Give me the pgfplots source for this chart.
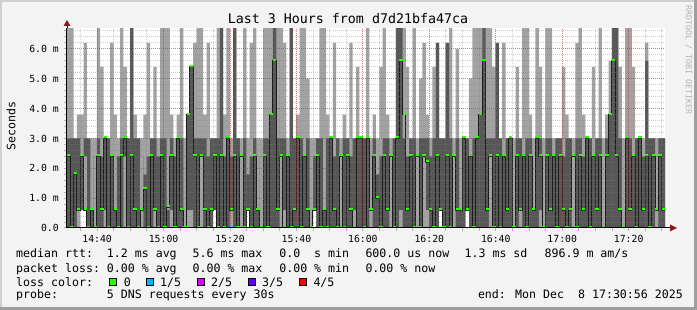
\documentclass[border=0pt]{standalone}
\usepackage{fontspec}
\setmainfont{DejaVu Sans Mono}
\usepackage{pgfplots}
\usepackage{pgfplotstable}
\pgfplotsset{compat=1.18}
\definecolor{bgc}{HTML}{F3F3F3}
\definecolor{shadea}{HTML}{CFCFCF}
\definecolor{shadeb}{HTML}{9E9E9E}
\definecolor{lightsmoke}{HTML}{A2A2A2}
\definecolor{darksmoke}{HTML}{575757}
\definecolor{medblack}{HTML}{1C1C1C}
\definecolor{lossgreen}{HTML}{26FF00}
\definecolor{lossblue}{HTML}{00B8FF}
\definecolor{lossmag}{HTML}{DD00FF}
\definecolor{losspurp}{HTML}{5E00FF}
\definecolor{lossred}{HTML}{FF0000}
\definecolor{arrowred}{HTML}{8B1A1A}
\definecolor{watermark}{HTML}{B5B5B5}
\newcommand\tickfont{\fontsize{9.8}{10}\selectfont}
\newcommand\legfont{\fontsize{11.6}{12}\selectfont}
\newcommand\titlefont{\fontsize{13.3}{14}\selectfont}
\newcommand\wmfont{\fontsize{8.3}{9}\selectfont}

% i = minute index since 14:30:56; lo <= a <= b <= hi are smoke bounds (ms); med = median rtt (ms)
\pgfplotstableread{
i lo a b hi med
0 0 0 3.0 6.8 2.4
1 0 0 3.0 6.8 0
2 0 0 3.0 3.0 1.8
3 0 0.6 3.0 3.8 0.6
4 0.6 0.6 2.4 3.8 2.4
5 0.6 2.4 3.0 6.2 0.6
6 0 0 3.0 3.0 0
7 0 0 0.6 3.0 0.6
8 0 2.4 2.4 3.0 0
9 0 0 3.0 6.8 2.4
10 0 0 2.4 5.4 0.6
11 0 0.6 3.0 3.0 3.0
12 0 0 3.0 3.0 0
13 0 0 2.4 6.2 2.4
14 0 0 0.6 3.8 0.6
15 0 0 2.4 3.0 0
16 0 0 3.0 6.8 2.4
17 0 2.4 3.0 5.4 3.0
18 0 0 3.0 3.0 0
19 0 0 6.8 6.8 2.4
20 0 0 3.0 3.8 0.6
21 0 0 3.0 3.0 0
22 0 2.4 2.4 3.0 0.6
23 0 0 1.8 3.8 1.3
24 0 0 2.4 6.2 0
25 0 0 3.0 3.0 2.4
26 0 0.6 3.0 5.4 0.6
27 0 0 2.4 3.0 0
28 0 0 3.0 6.8 2.4
29 0 0 3.0 6.8 0
30 0 0 0.6 6.8 0.7
31 0 0.6 3.0 3.8 2.4
32 0 0 2.4 3.0 0
33 0 0 3.0 3.8 3.0
34 0 0 3.0 6.8 0.6
35 0 2.4 2.4 3.0 0
36 0 0.6 3.8 3.8 3.8
37 0 0.6 5.4 5.4 5.4
38 0 0 3.0 6.2 2.4
39 0 0 3.0 6.8 0
40 0 2.4 3.0 6.8 2.4
41 0 0 3.0 3.8 0.6
42 0 0 2.4 6.2 0
43 0 0 3.0 3.0 0.6
44 0.6 0.6 3.0 3.0 2.4
45 0 0 3.0 6.8 0
46 0 0 6.8 6.8 2.4
47 0 0 2.4 3.8 0
48 0 0 3.0 6.8 3.0
49 0 0.6 2.4 3.0 0.6
50 0 0 6.8 6.8 2.4
51 0 0 3.0 3.0 0
52 0 2.4 2.4 3.0 2.4
53 0 0 3.0 6.8 0
54 0.6 0.6 1.8 3.0 0.6
55 0 0 2.4 6.2 0
56 0 0 3.0 6.8 2.4
57 0 0 0.6 3.0 0.6
58 0 2.4 2.4 3.0 0
59 0 0 3.0 6.8 2.4
60 0 0 3.0 6.8 0
61 0 0 3.8 6.8 3.8
62 0 0 6.8 6.8 5.6
63 0 0 3.0 6.8 0.6
64 0 2.4 3.0 6.8 2.4
65 0 0.6 3.0 6.2 0
66 0 0 2.4 3.0 2.4
67 0 0 6.8 6.8 0
68 0 0 3.0 3.0 0.6
69 0 0 3.0 3.8 3.0
70 0 0 3.0 6.8 0
71 0 0 2.4 6.8 2.4
72 0 0 3.0 5.0 0.6
73 0 2.4 2.4 3.0 0
74 0.6 0.6 2.4 3.0 0.6
75 0 0 3.0 3.0 2.4
76 0 0 3.0 6.8 0
77 0 0 0.6 6.8 0.6
78 0 0 3.0 3.8 0
79 0 0 3.0 3.0 3.0
80 0 0 2.4 6.2 0.6
81 0 0 3.0 3.0 0
82 0 2.4 2.4 3.0 2.4
83 0 0 3.0 3.8 0
84 0 0 3.0 3.0 2.4
85 0 0 2.4 6.2 0.6
86 0 0.6 3.0 3.0 0
87 0 0 3.0 5.4 3.0
88 0 0 3.0 3.0 3.0
89 0 0 3.0 3.0 0
90 0 0 3.0 6.8 3.0
91 0 2.4 2.4 3.0 0.6
92 0 0 3.0 3.8 2.4
93 0 0 1.8 3.0 1.0
94 0 0 2.4 5.4 0
95 0 0 3.0 6.8 2.4
96 0 0 3.0 3.8 0.6
97 0 2.4 2.4 3.0 2.4
98 0 0 3.0 3.0 0
99 0 0 6.8 6.8 3.0
100 0 0.6 6.8 6.8 5.6
101 0 0 3.0 6.8 3.8
102 0 0 2.4 5.4 0.6
103 0 0 3.0 3.0 2.4
104 0 0 3.0 6.8 0
105 0 2.4 2.4 3.0 2.4
106 0 0 3.0 5.0 0
107 0 2.4 3.0 6.2 2.4
108 0 0.6 3.0 3.8 2.2
109 0 0 2.4 3.0 0.6
110 0 0 3.0 5.4 0
111 0 0 6.2 6.2 2.4
112 0.6 0.6 3.0 3.0 0.6
113 0 0 3.0 3.0 0
114 0 0 6.2 6.2 2.4
115 0 0 3.0 6.8 0
116 0 2.4 2.4 3.0 2.4
117 0 0 3.0 6.0 0.6
118 0 0 0.6 3.0 0.6
119 0 0 3.0 3.0 3.0
120 0.6 0.6 3.0 3.0 0.6
121 0 0 2.4 5.0 2.4
122 0 0 3.0 6.8 0
123 0 0 3.0 6.8 3.0
124 0 0 3.8 6.8 3.8
125 0 0 6.8 6.8 5.6
126 0 0 3.0 6.8 0.6
127 0 2.4 3.0 6.8 2.4
128 0 0 3.0 5.4 0
129 0 0 6.2 6.2 2.4
130 0 0 3.0 3.0 0
131 0 0 2.4 6.2 2.4
132 0 0 3.0 3.0 0.6
133 0 0 3.0 3.0 3.0
134 0 2.4 2.4 3.0 0
135 0 0 3.0 5.4 2.4
136 0 0.6 3.0 3.0 0.6
137 0 0 2.4 6.8 2.4
138 0 0 3.0 6.8 0
139 0 0 3.0 3.8 2.4
140 0 0 0.6 3.0 0.6
141 0 0 3.0 6.8 3.0
142 0 0.6 3.0 5.4 2.4
143 0 2.4 2.4 3.0 0
144 0 0 3.0 6.8 2.4
145 0 0 3.0 6.8 0.6
146 0 0 2.4 3.0 2.4
147 0 0 3.0 3.0 0
148 0 0 3.0 3.0 2.4
149 0 0 2.4 5.4 0.6
150 0 0 3.0 3.8 0
151 0 0 3.0 3.0 0.6
152 0 2.4 2.4 3.0 2.4
153 0 0 3.0 6.2 0
154 0 0 3.0 6.8 2.4
155 0 0 2.4 3.8 0.6
156 0 0 3.0 3.0 3.0
157 0 0 3.0 3.0 0
158 0 0 2.4 5.4 2.4
159 0 0 3.0 3.0 0.6
160 0 0 3.0 6.8 2.4
161 0 2.4 2.4 3.0 0
162 0 0 3.0 3.8 2.4
163 0 0 3.8 5.6 3.8
164 0 0 6.8 6.8 5.6
165 0 0 6.8 6.8 2.4
166 0 0 3.0 5.4 0.6
167 0 2.4 2.4 3.0 0
168 0 0 3.0 6.8 3.0
169 0 0 3.0 6.8 0.6
170 0 0 2.4 5.4 2.4
171 0 0 3.0 3.0 0
172 0 0 3.0 3.0 3.0
173 0 0 2.4 3.0 0.6
174 0 0 5.6 6.2 2.4
175 0 0 3.0 3.0 0
176 0 0 3.0 3.0 2.4
177 0 2.4 2.4 3.0 0.6
178 0 0 3.0 3.0 2.4
179 0 0 3.0 3.0 0.6
180 0 0 3.0 3.0 0.6
}\smoke

\begin{document}
\begin{tikzpicture}[x=1pt,y=1pt]
\fill[bgc] (0,0) rectangle (697,310);
\fill[shadea] (0,308) rectangle (697,310);
\fill[shadea] (0,0) rectangle (2,310);
\fill[shadeb] (694,0) rectangle (697,310);
\fill[shadeb] (0,0) rectangle (697,3);

\begin{axis}[
  at={(67pt,82pt)}, anchor=south west,
  scale only axis, width=598pt, height=200pt,
  xmin=0.9333, xmax=180.9333, ymin=0, ymax=6.7,
  axis background/.style={fill=white},
  axis on top,
  axis x line*=bottom, axis y line*=left,
  axis line style={draw=black, line width=1pt},
  xtick={10,30,...,170},
  xticklabels={14:40,15:00,15:20,15:40,16:00,16:20,16:40,17:00,17:20},
  minor xtick={5,10,...,180},
  ytick={0,1,...,6},
  yticklabels={0.0,1.0 m,2.0 m,3.0 m,4.0 m,5.0 m,6.0 m},
  minor ytick={0.2,0.4,...,6.61},
  grid=both,
  major grid style={draw=red, opacity=0.42, line width=1pt, dash pattern=on 1pt off 1pt},
  minor grid style={draw=gray, opacity=0.38, line width=1pt, dash pattern=on 1pt off 1pt},
  tick align=outside, tick pos=left,
  major tick length=3pt, minor tick length=3pt,
  every tick/.style={draw=black!30, line width=1pt},
  xticklabel style={font=\tickfont, anchor=base, inner sep=0pt, yshift=-12pt},
  yticklabel style={font=\tickfont, anchor=east, inner sep=0pt, xshift=-5pt},
]
\addplot[const plot mark left, fill=lightsmoke, draw=none] table[x expr=\thisrow{i}+0.9333, y=hi] {\smoke} \closedcycle;
\addplot[const plot mark left, fill=darksmoke, draw=none] table[x expr=\thisrow{i}+0.9333, y=b] {\smoke} \closedcycle;
\addplot[const plot mark left, fill=lightsmoke, draw=none] table[x expr=\thisrow{i}+0.9333, y=a] {\smoke} \closedcycle;
\addplot[const plot mark left, fill=white, draw=none] table[x expr=\thisrow{i}+0.9333, y=lo] {\smoke} \closedcycle;
\addplot[const plot mark left, draw=medblack, line width=1pt] table[x expr=\thisrow{i}+0.9333, y=med] {\smoke};
\addplot[jump mark left, draw=lossgreen, line width=2pt, yshift=1pt] table[x expr=\thisrow{i}+0.9333, y=med] {\smoke};
\end{axis}

% axis arrows
\draw[black, line width=1pt] (665,82) -- (671,82);
\fill[arrowred] (677,82) -- (670,85.5) -- (670,78.5) -- cycle;
\draw[black, line width=1pt] (67,282) -- (67,285);
\fill[arrowred] (67,290) -- (63.5,284) -- (70.5,284) -- cycle;

% title and labels
\node[font=\titlefont, anchor=base, inner sep=0pt] at (348,286) {Last 3 Hours from d7d21bfa47ca};
\node[font=\legfont, rotate=90, inner sep=0pt] at (11,184) {Seconds};
\node[font=\wmfont, text=watermark, rotate=-90, inner sep=0pt] at (688.5,250) {RRDTOOL / TOBI OETIKER};

% legend
\begin{scope}[every node/.style={font=\legfont, anchor=base west, inner sep=0pt}]
\node at (16,52) {median rtt:};
\node at (106.7,52) {1.2 ms avg};
\node at (192.4,52) {5.6 ms max};
\node at (279.1,52) {0.0~~s min};
\node at (365.3,52) {600.0 us now};
\node at (464.4,52) {1.3 ms sd};
\node at (544.4,52) {896.9 m am/s};
\node at (16,37.5) {packet loss:};
\node at (106.7,37.5) {0.00 \% avg};
\node at (192.4,37.5) {0.00 \% max};
\node at (279.1,37.5) {0.00 \% min};
\node at (365.3,37.5) {0.00 \% now};
\node at (16,23.5) {loss color:};
\node at (123.6,23.5) {0};
\node at (160,23.5) {1/5};
\node at (211,23.5) {2/5};
\node at (262,23.5) {3/5};
\node at (313.3,23.5) {4/5};
\node at (16,11) {probe:};
\node at (106.7,11) {5 DNS requests every 30s};
\node at (477.8,11) {end: Mon Dec~~8 17:30:56 2025};
\end{scope}
\foreach \bx/\col in {109/lossgreen,145.8/lossblue,197/lossmag,247.6/losspurp,298.7/lossred}{
  \filldraw[fill=\col, draw=black, line width=1pt] (\bx+0.5,24) rectangle (\bx+7.5,31);
}
\pgfresetboundingbox
\path (0,0) rectangle (697,310);
\end{tikzpicture}
\end{document}
